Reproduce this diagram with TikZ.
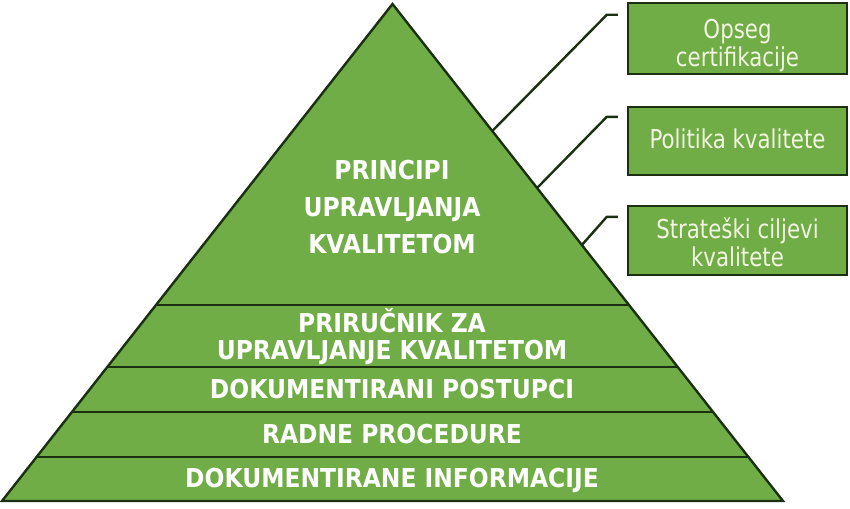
\documentclass[tikz,border=0pt]{standalone}
\usepackage{fontspec}
\setmainfont{DejaVu Sans}[FakeStretch=0.82]
\newfontfamily\pyrfont{DejaVu Sans}[FakeStretch=0.9]
\usetikzlibrary{calc}
\definecolor{pgreen}{HTML}{70AD47}
\definecolor{pdark}{HTML}{1A3010}
\definecolor{boxtext}{HTML}{F2F5E1}
\tikzset{
  layer/.style={fill=pgreen,draw=pdark,line width=2.4pt,line join=miter},
  sep/.style={draw=pdark,line width=2.4pt},
  pyrtext/.style={text=white,align=center,inner sep=0pt,
    font=\pyrfont\bfseries\fontsize{26}{37}\selectfont},
  pyrtextb/.style={pyrtext,font=\pyrfont\bfseries\fontsize{26}{27}\selectfont},
  sidebox/.style={rectangle,fill=pgreen,draw=pdark,line width=2.4pt,
    minimum width=219pt,inner sep=0pt},
  sidetext/.style={text=boxtext,align=center,inner sep=0pt,
    font=\fontsize{26}{28}\selectfont},
  conn/.style={draw=pdark,line width=2.4pt,line join=round}
}
\begin{document}
\begin{tikzpicture}[x=1pt,y={(0pt,-1pt)}]
\useasboundingbox (0,0) rectangle (850,508);
% pyramid corners
\coordinate (A) at (392.5,4);
\coordinate (BL) at (2,501);
\coordinate (BR) at (783,501);
\coordinate (L1) at ($(A)!0.6056!(BL)$);
\coordinate (R1) at ($(A)!0.6056!(BR)$);
\coordinate (L2) at ($(A)!0.7304!(BL)$);
\coordinate (R2) at ($(A)!0.7304!(BR)$);
\coordinate (L3) at ($(A)!0.8209!(BL)$);
\coordinate (R3) at ($(A)!0.8209!(BR)$);
\coordinate (L4) at ($(A)!0.9115!(BL)$);
\coordinate (R4) at ($(A)!0.9115!(BR)$);
\path[layer] (A) -- (BR) -- (BL) -- cycle;
\draw[sep] (L1) -- (R1);
\draw[sep] (L2) -- (R2);
\draw[sep] (L3) -- (R3);
\draw[sep] (L4) -- (R4);
% pyramid texts
\node[pyrtext] (p1) at (392,207) {PRINCIPI\\UPRAVLJANJA\\KVALITETOM};
\node[pyrtextb] (p2) at (392,337) {PRIRUČNIK ZA\\UPRAVLJANJE KVALITETOM};
\node[pyrtext,anchor=base] (p3) at (392,398) {DOKUMENTIRANI POSTUPCI};
\node[pyrtext,anchor=base] (p4) at (392,443) {RADNE PROCEDURE};
\node[pyrtext,anchor=base] (p5) at (392,487) {DOKUMENTIRANE INFORMACIJE};
% side boxes
\node[sidebox,minimum height=71pt] (b1) at (737.5,38.5) {};
\node[sidebox,minimum height=68pt] (b2) at (737.5,141) {};
\node[sidebox,minimum height=69pt] (b3) at (737.5,240.5) {};
\node[sidetext] (s1) at (737.5,46) {Opseg\\certifikacije};
\node[sidetext] (s2) at (737.5,139) {Politika kvalitete};
\node[sidetext] (s3) at (737.5,242) {Strateški ciljevi\\kvalitete};
% connectors
\coordinate (e1) at ($(A)!0.2555!(BR)$);
\coordinate (e2) at ($(A)!0.3702!(BR)$);
\coordinate (e3) at ($(A)!0.4849!(BR)$);
\coordinate (k1) at ($(b1.north west)+(-20,13)$);
\coordinate (k2) at ($(b2.north west)+(-20,11)$);
\coordinate (k3) at ($(b3.north west)+(-20,12)$);
\coordinate (f1) at ($(k1)+(11,0)$);
\coordinate (f2) at ($(k2)+(11,0)$);
\coordinate (f3) at ($(k3)+(11,0)$);
\draw[conn] (e1) -- (k1) -- (f1);
\draw[conn] (e2) -- (k2) -- (f2);
\draw[conn] (e3) -- (k3) -- (f3);
\end{tikzpicture}
\end{document}
